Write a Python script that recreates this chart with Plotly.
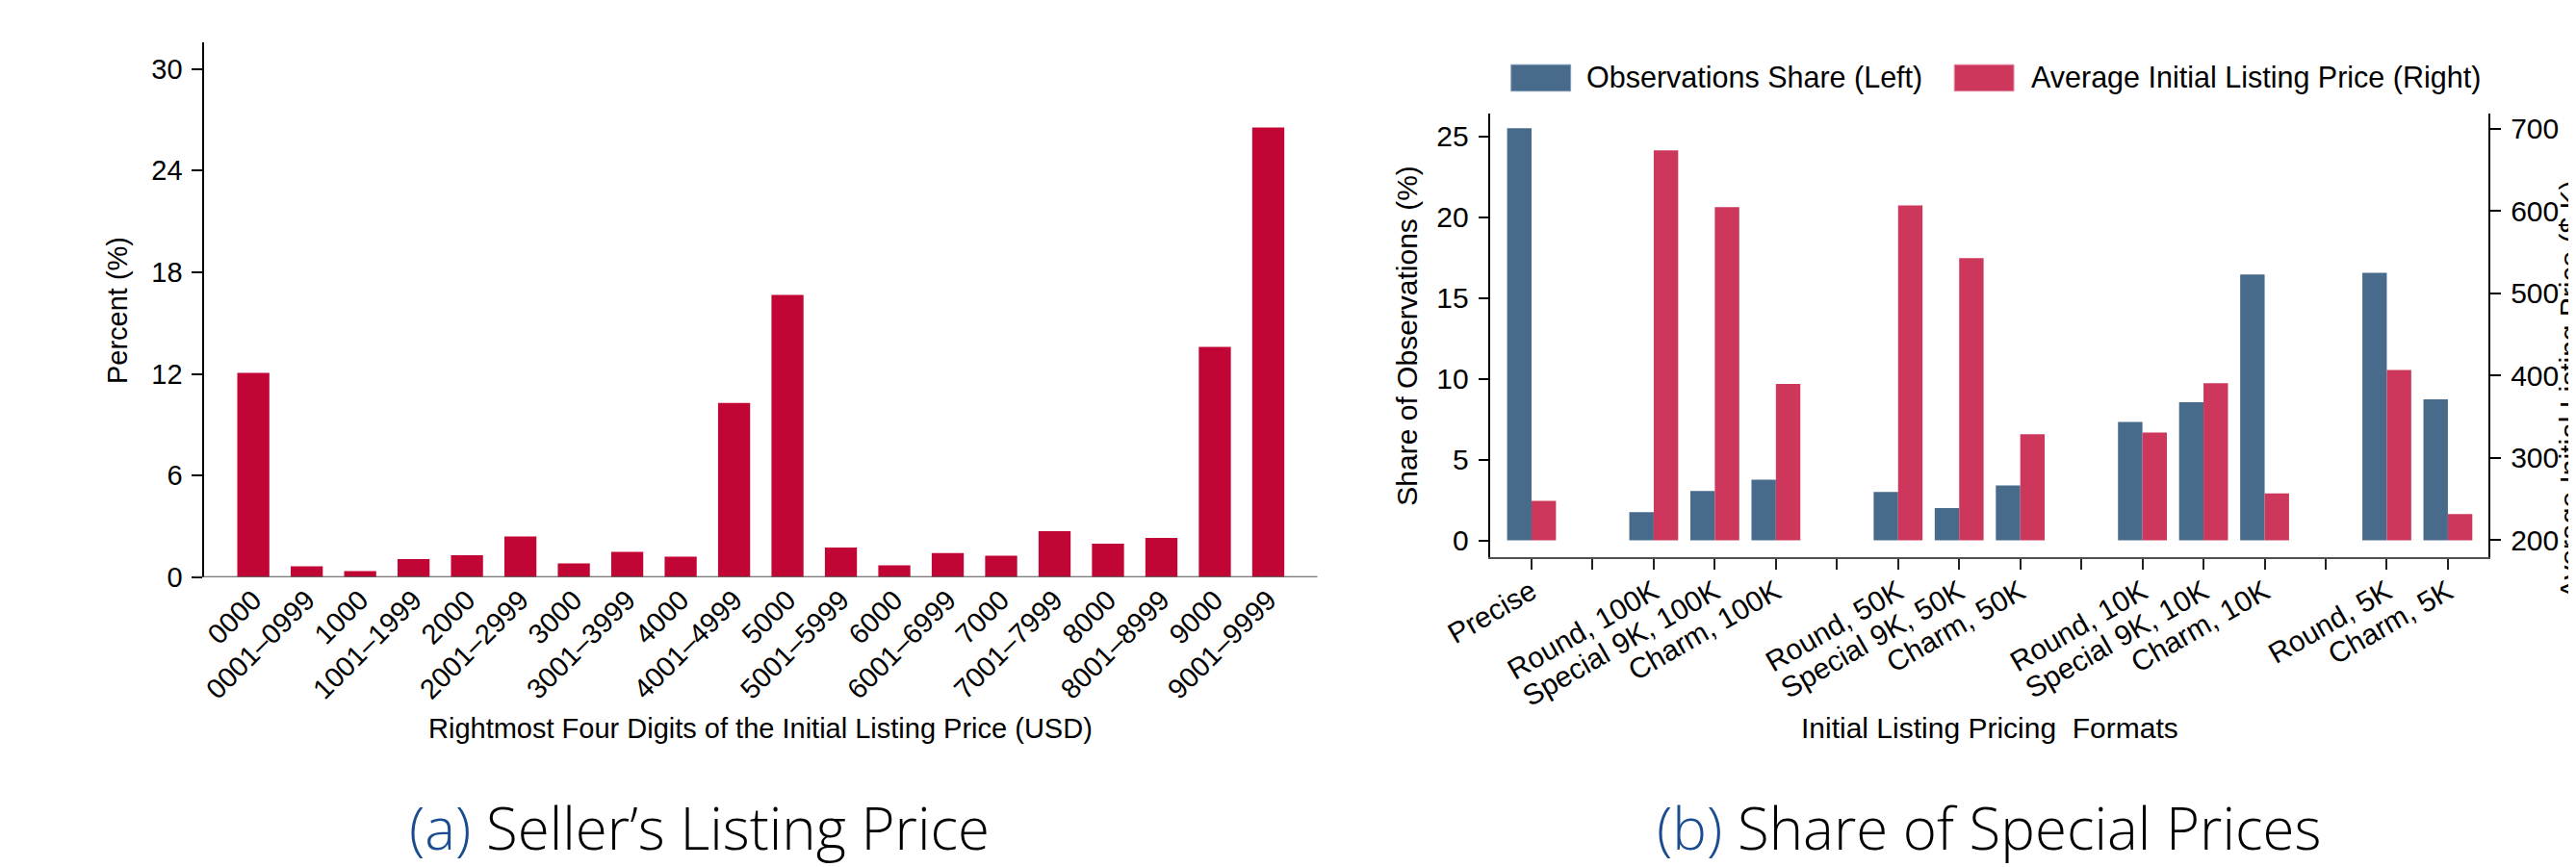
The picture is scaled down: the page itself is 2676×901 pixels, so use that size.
import plotly.graph_objects as go

# ---------------- data ----------------
digit_labels = ["0000", "0001\u20130999", "1000", "1001\u20131999", "2000", "2001\u20132999",
                "3000", "3001\u20133999", "4000", "4001\u20134999", "5000", "5001\u20135999",
                "6000", "6001\u20136999", "7000", "7001\u20137999", "8000", "8001\u20138999",
                "9000", "9001\u20139999"]
digit_percent = [12.06, 0.64, 0.36, 1.07, 1.30, 2.41, 0.81, 1.49, 1.21, 10.29,
                 16.66, 1.75, 0.70, 1.43, 1.26, 2.71, 1.97, 2.32, 13.60, 26.54]
left_yticks = [0, 6, 12, 18, 24, 30]

format_slots = ["Precise", "", "Round, 100K", "Special 9K, 100K", "Charm, 100K", "",
                "Round, 50K", "Special 9K, 50K", "Charm, 50K", "",
                "Round, 10K", "Special 9K, 10K", "Charm, 10K", "",
                "Round, 5K", "Charm, 5K"]
format_names = [s for s in format_slots if s]
obs_share = [25.5, 1.75, 3.06, 3.76, 2.99, 2.0, 3.4, 7.32, 8.55, 16.45, 16.55, 8.73]
avg_price = [248, 674, 605, 390, 607, 543, 329, 331, 391, 257, 407, 232]
share_ticks = [0, 5, 10, 15, 20, 25]
price_ticks = [200, 300, 400, 500, 600, 700]
price_base = 200

# ---------------- layout helpers ----------------
W, H = 2676, 901
def px(x):
    return x / W
def py(y):
    return 1 - y / H

FONT = "Liberation Sans, Arial, Helvetica, sans-serif"
CAP_FONT = "Open Sans, Noto Sans, sans-serif"
RED1 = "#C10534"
BLUE = "#486A8B"
RED2 = "#CC375B"
AXGRAY = "#505050"

fig = go.Figure()

# ---- panel (a) ----
fig.add_trace(go.Bar(
    x=list(range(len(digit_labels))), y=digit_percent, width=0.6,
    marker=dict(color=RED1, line=dict(width=0)),
    xaxis="x", yaxis="y", showlegend=False, name="Percent"))

# ---- panel (b) ----
slot_x = [format_slots.index(n) for n in format_names]
fig.add_trace(go.Bar(
    x=slot_x, y=obs_share, width=0.4, offset=-0.4,
    marker=dict(color=BLUE, line=dict(width=0)),
    xaxis="x2", yaxis="y2", showlegend=False, name="Observations Share (Left)"))
fig.add_trace(go.Bar(
    x=slot_x, y=[p - price_base for p in avg_price], base=price_base,
    width=0.4, offset=0.0,
    marker=dict(color=RED2, line=dict(width=0)),
    xaxis="x2", yaxis="y3", showlegend=False, name="Average Initial Listing Price (Right)"))

tickfont_a = dict(family=FONT, size=29, color="black")
tickfont_b = dict(family=FONT, size=30, color="black")

fig.update_layout(
    width=W, height=H,
    margin=dict(l=0, r=0, t=0, b=0),
    paper_bgcolor="white", plot_bgcolor="white",
    barmode="overlay",
    font=dict(family=FONT, color="black"),
    xaxis=dict(domain=[px(158), px(1336)], range=[-0.92, len(digit_labels) - 1 + 0.92],
               tickmode="array", tickvals=list(range(len(digit_labels))), ticktext=digit_labels,
               tickangle=-45, tickfont=tickfont_a, ticks="", showline=False,
               showgrid=False, zeroline=False, anchor="y"),
    yaxis=dict(domain=[py(602.5), py(36.7)], range=[0, 31.57],
               tickmode="array", tickvals=left_yticks, tickfont=tickfont_a,
               ticks="outside", ticklen=11, tickwidth=1.5, tickcolor="black",
               showline=True, linecolor="black", linewidth=1.5,
               showgrid=False, zeroline=False, anchor="x", ticklabelstandoff=4),
    xaxis2=dict(domain=[px(1519.3), px(2575.6)], range=[-0.67, len(format_slots) - 1 + 0.67],
                tickmode="array", tickvals=list(range(len(format_slots))), ticktext=format_slots,
                tickangle=-30, tickfont=tickfont_b, ticks="outside", ticklen=11, tickwidth=1.5,
                tickcolor="#222", showline=True, linecolor=AXGRAY, linewidth=2,
                showgrid=False, zeroline=False, anchor="y2", ticklabelstandoff=-6),
    yaxis2=dict(domain=[py(581), py(111.7)], range=[-1.02, 26.42],
                tickmode="array", tickvals=share_ticks, tickfont=tickfont_b,
                ticks="outside", ticklen=11, tickwidth=1.5, tickcolor="black",
                showline=True, linecolor="black", linewidth=1.5,
                showgrid=False, zeroline=False, anchor="x2", ticklabelstandoff=4),
    yaxis3=dict(range=[179.9, 719.0], overlaying="y2", side="right", anchor="x2",
                tickmode="array", tickvals=price_ticks, tickfont=tickfont_b,
                ticks="outside", ticklen=11, tickwidth=1.5, tickcolor="black",
                showline=True, linecolor="black", linewidth=1.5,
                showgrid=False, zeroline=False, ticklabelstandoff=4),
)

# x-axis baseline of panel (a), extending slightly left of the y axis
fig.add_shape(type="line", xref="paper", yref="y", x0=px(147), x1=px(1336), y0=0, y1=0,
              line=dict(color=AXGRAY, width=2))

ann = []
def text(x, y, s, size, angle=0, family=FONT, color="black", weight=None, xanchor="center"):
    f = dict(family=family, size=size, color=color)
    if weight:
        f["weight"] = weight
    ann.append(dict(xref="paper", yref="paper", x=px(x), y=py(y), text=s, showarrow=False,
                    textangle=angle, font=f, xanchor=xanchor, yanchor="middle"))

# axis titles
text(67, 320, "Percent (%)", 29, angle=-90)
text(747, 763, "Rightmost Four Digits of the Initial Listing Price (USD)", 29)
text(1431, 347, "Share of Observations (%)", 30, angle=-90)
text(2047, 762, "Initial Listing Pricing\u00a0 Formats", 30)
text(2662, 404, "Average Initial Listing Price ($ K)", 30, angle=-90)

# legend (panel b)
fig.add_shape(type="rect", xref="paper", yref="paper", x0=px(1541), x1=px(1604),
              y0=py(88.3), y1=py(60.3), fillcolor=BLUE, line=dict(color="#7f9bb5", width=1))
fig.add_shape(type="rect", xref="paper", yref="paper", x0=px(2010), x1=px(2073),
              y0=py(88.3), y1=py(60.3), fillcolor=RED2, line=dict(color="#e58aa0", width=1))
text(1619, 74, "Observations Share (Left)", 30.5, xanchor="left")
text(2089, 74, "Average Initial Listing Price (Right)", 30.5, xanchor="left")

# captions
text(682, 867, "<span style='color:#1a4d8f'>(a)</span> Seller\u2019s Listing Price", 60,
     family=CAP_FONT, weight=300)
text(2046, 867, "<span style='color:#1a4d8f'>(b)</span> Share of Special Prices", 60,
     family=CAP_FONT, weight=300)

fig.update_layout(annotations=ann)
fig.write_html("out.html")
